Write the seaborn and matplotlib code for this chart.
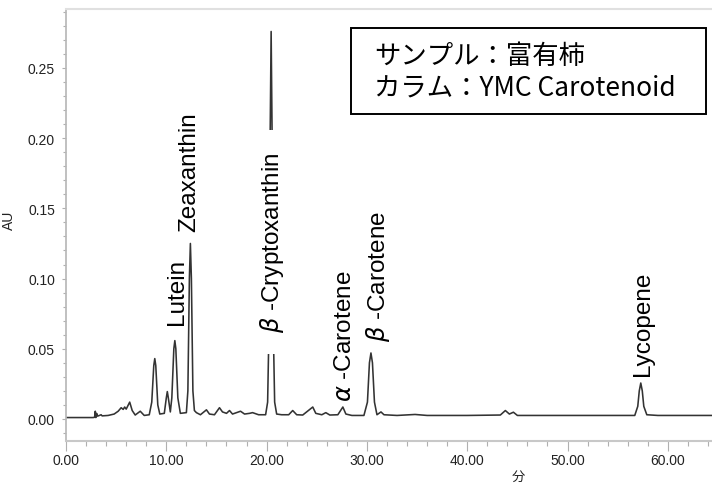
import matplotlib
matplotlib.use("Agg")
import matplotlib.pyplot as plt
from matplotlib.patches import Rectangle
from matplotlib.ticker import MultipleLocator, FormatStrFormatter
import seaborn as sns
import pandas as pd

# ---- data: chromatogram trace (retention time, AU) ----
rt_min = [0.0, 2.7, 2.85, 2.92, 2.97, 3.05, 3.15, 3.5, 3.6, 4.2, 4.8, 5.2, 5.5, 5.7,
          5.85, 6.0, 6.35, 6.6, 6.9, 7.4, 7.8, 8.3, 8.55, 8.75, 8.85, 8.95, 9.15, 9.35,
          9.8, 10.0, 10.1, 10.2, 10.4, 10.55, 10.75, 10.85, 10.95, 11.15, 11.4, 12.0,
          12.15, 12.3, 12.4, 12.5, 12.65, 12.8, 13.0, 13.4, 14.0, 14.3, 14.8, 15.3,
          15.6, 16.0, 16.3, 16.6, 17.0, 17.4, 17.8, 18.3, 18.6, 19.2, 19.9, 20.1,
          20.25, 20.35, 20.45, 20.55, 20.65, 20.8, 21.0, 21.5, 22.2, 22.6, 23.0, 23.6,
          24.6, 24.9, 25.5, 25.9, 26.3, 27.1, 27.6, 27.9, 28.5, 29.7, 30.05, 30.25,
          30.4, 30.55, 30.75, 31.0, 31.4, 31.7, 33.0, 34.8, 36.0, 40.0, 43.3, 43.8,
          44.2, 44.6, 45.0, 50.0, 54.0, 56.7, 57.0, 57.15, 57.3, 57.45, 57.6, 57.9,
          59.0, 64.4]
au = [0.0010, 0.0010, 0.0012, 0.0055, 0.0010, 0.0040, 0.0020, 0.0030, 0.0022, 0.0025,
      0.0035, 0.0055, 0.0080, 0.0068, 0.0085, 0.0070, 0.0120, 0.0060, 0.0028, 0.0055,
      0.0025, 0.0030, 0.0120, 0.0380, 0.0430, 0.0380, 0.0100, 0.0035, 0.0040, 0.0150,
      0.0195, 0.0150, 0.0050, 0.0150, 0.0500, 0.0558, 0.0500, 0.0150, 0.0040, 0.0045,
      0.0200, 0.1000, 0.1250, 0.1000, 0.0200, 0.0060, 0.0045, 0.0030, 0.0065, 0.0035,
      0.0030, 0.0080, 0.0050, 0.0040, 0.0060, 0.0035, 0.0045, 0.0055, 0.0035, 0.0040,
      0.0045, 0.0030, 0.0030, 0.0120, 0.0700, 0.2000, 0.2760, 0.2000, 0.0700, 0.0120,
      0.0035, 0.0030, 0.0030, 0.0060, 0.0030, 0.0028, 0.0085, 0.0040, 0.0030, 0.0045,
      0.0028, 0.0030, 0.0085, 0.0035, 0.0025, 0.0025, 0.0120, 0.0400, 0.0470, 0.0400,
      0.0120, 0.0030, 0.0050, 0.0030, 0.0025, 0.0032, 0.0025, 0.0025, 0.0028, 0.0060,
      0.0035, 0.0048, 0.0025, 0.0025, 0.0025, 0.0025, 0.0090, 0.0200, 0.0256, 0.0200,
      0.0090, 0.0030, 0.0025, 0.0025]

peak_names = ["Lutein", "Zeaxanthin", r"$\beta$ -Cryptoxanthin", r"$\alpha$ -Carotene",
              r"$\beta$ -Carotene", "Lycopene"]
x_ticks = [0, 10, 20, 30, 40, 50, 60]
y_ticks = [0.00, 0.05, 0.10, 0.15, 0.20, 0.25]
info_lines = ["サンプル：富有柿", "カラム：YMC Carotenoid"]

# ---- label anchor placements (annotation layout) ----
label_pos = [(11.07, 0.0677), (12.33, 0.134), (20.54, 0.062), (27.8, 0.0128),
             (31.1, 0.0556), (57.5, 0.031)]

df = pd.DataFrame({"rt": rt_min, "au": au})

sns.set_theme(style="white")
plt.rcParams["font.family"] = ["Liberation Sans", "Noto Sans CJK JP", "DejaVu Sans"]

fig = plt.figure(figsize=(7.12, 4.85), dpi=100)
ax = fig.add_axes([66 / 712, 43 / 485, 646 / 712, 432 / 485])

sns.lineplot(data=df, x="rt", y="au", ax=ax, color="#333333", linewidth=1.15,
             estimator=None, sort=False)

ax.set_xlim(0, 64.4)
ax.set_ylim(-0.0157, 0.292)

ax.set_xticks(x_ticks)
ax.set_yticks(y_ticks)
ax.xaxis.set_minor_locator(MultipleLocator(2))
ax.yaxis.set_minor_locator(MultipleLocator(0.01))
ax.xaxis.set_major_formatter(FormatStrFormatter("%.2f"))
ax.yaxis.set_major_formatter(FormatStrFormatter("%.2f"))

ax.tick_params(axis="x", which="major", length=7, width=0.8, color="#b0b0b0",
               labelsize=10, labelcolor="#222222", pad=2, direction="out")
ax.tick_params(axis="x", which="minor", length=3.5, width=0.8, color="#b0b0b0",
               direction="out")
ax.tick_params(axis="y", which="major", length=3, width=0.8, color="#b0b0b0",
               labelsize=10, labelcolor="#222222", pad=5, direction="out")
ax.tick_params(axis="y", which="minor", length=2.5, width=0.8, color="#b0b0b0",
               direction="out")
ax.tick_params(bottom=True, left=True, which="both")

for side in ["left", "bottom", "top"]:
    ax.spines[side].set_visible(True)
ax.spines["left"].set_color("#b8b8b8")
ax.spines["bottom"].set_color("#c8c8c8")
ax.spines["bottom"].set_linewidth(1.5)
ax.spines["top"].set_color("#e0e0e0")
ax.spines["top"].set_linewidth(1.5)
ax.spines["right"].set_visible(False)

ax.set_ylabel("AU", fontsize=10, color="#222222")
ax.yaxis.set_label_coords(-0.077, 0.514)
ax.set_xlabel("分", fontsize=9.5, color="#222222",
              family=["Noto Sans CJK JP", "DejaVu Sans"])
ax.xaxis.set_label_coords(0.70, -0.066)

for name, (lx, ly) in zip(peak_names, label_pos):
    kw = {}
    if "Crypto" in name:
        kw["bbox"] = dict(boxstyle="square,pad=0.9", fc="white", ec="none")
    ax.text(lx, ly, name, rotation=90, ha="center", va="bottom", fontsize=17.5,
            color="black", zorder=5, **kw)

# information box
ax.add_patch(Rectangle((0.441, 0.757), 0.55, 0.199, transform=ax.transAxes,
                       fill=False, ec="black", lw=1.4, zorder=6, clip_on=False))
for txt, yy in zip(info_lines, [0.8935, 0.8194]):
    ax.text(0.477, yy, txt, transform=ax.transAxes, ha="left", va="center",
            fontsize=19, color="black", zorder=7,
            family=["Noto Sans CJK JP", "DejaVu Sans"])

fig.savefig("out.png", dpi=100)
